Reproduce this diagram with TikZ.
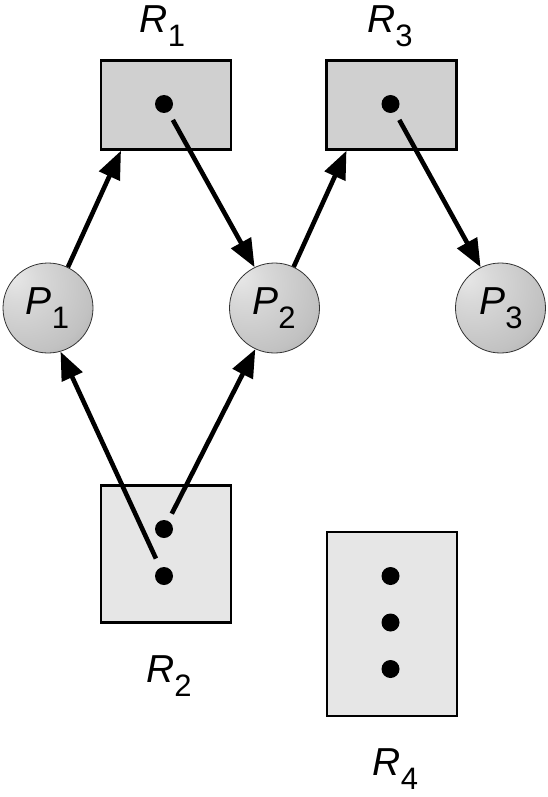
\documentclass[tikz,border=0pt]{standalone}
\usepackage{fontspec}
\setmainfont{Liberation Sans}
\usetikzlibrary{arrows.meta,calc}
\pgfdeclareradialshading{sphere}{\pgfpoint{-20bp}{18bp}}{%
  color(0bp)=(black!9); color(12bp)=(black!15); color(35bp)=(black!24);
  color(55bp)=(black!38); color(68bp)=(black!52); color(80bp)=(black!58)}
\newcommand{\lbl}[4]{{\fontsize{#3}{#3}\selectfont\itshape #1}{\fontsize{#4}{#4}\selectfont\raisebox{-14pt}{#2}}}
\definecolor{resdark}{HTML}{D0D0D0}
\definecolor{reslight}{HTML}{E6E6E6}
\begin{document}
\begin{tikzpicture}[x=1pt,y=-1pt,
  resbox/.style={draw=black,line width=2.4pt,inner sep=0pt},
  proc/.style={circle,draw=black!80,line width=0.8pt,minimum size=90pt,inner sep=0pt,shading=sphere},
  dot/.style={circle,fill=black,minimum size=18pt,inner sep=0pt},
  arr/.style={line width=4.6pt,-{Triangle[length=28pt,width=22pt]}},
  lab/.style={inner sep=0pt}]
\useasboundingbox (0,0) rectangle (547,797);
% resources
\node[resbox,fill=resdark,minimum width=130pt,minimum height=89pt] (R1) at (166,105) {};
\node[resbox,fill=resdark,minimum width=130pt,minimum height=89pt] (R3) at (391.5,105) {};
\node[resbox,fill=reslight,minimum width=130pt,minimum height=137pt] (R2) at (166,554) {};
\node[resbox,fill=reslight,minimum width=130pt,minimum height=184pt] (R4) at (392,624) {};
% dots
\node[dot] (d1) at (164,104) {};
\node[dot] (d3) at (390.5,104) {};
\node[dot] (d2a) at (164,529) {};
\node[dot] (d2b) at (164,576) {};
\node[dot] (d4a) at (390.5,576) {};
\node[dot] (d4b) at (390.5,622.5) {};
\node[dot] (d4c) at (390.5,669) {};
% processes
\node[proc] (P1) at (48,308) {};
\node[proc] (P2) at (274.5,308) {};
\node[proc] (P3) at (500.5,308) {};
% labels
\node[lab] (lP1) at (47.5,308) {\lbl{P}{1}{39}{31}};
\node[lab] (lP2) at (274,308) {\lbl{P}{2}{39}{31}};
\node[lab] (lP3) at (501,308) {\lbl{P}{3}{39}{31}};
\node[lab] (lR1) at (162.5,26) {\lbl{R}{1}{39}{31}};
\node[lab] (lR3) at (390,26) {\lbl{R}{3}{39}{31}};
\node[lab] (lR2) at (169,676) {\lbl{R}{2}{39}{31}};
\node[lab] (lR4) at (395.5,769) {\lbl{R}{4}{39}{31}};
% entry points on box bottoms
\coordinate (r1in) at ($(R1.south west)!0.16!(R1.south east)$);
\coordinate (r3in) at ($(R3.south west)!0.16!(R3.south east)$);
% edges
\draw[arr] (P1.64) -- (r1in);
\draw[arr] (P2.65) -- (r3in);
\draw[arr,shorten <=9pt] (d1) -- (P2.116);
\draw[arr,shorten <=9pt] (d3) -- (P3.116);
\draw[arr,shorten <=10pt] (d2b) -- (P1.286);
\draw[arr,shorten <=8pt] (d2a) -- (P2.245);
\end{tikzpicture}
\end{document}
